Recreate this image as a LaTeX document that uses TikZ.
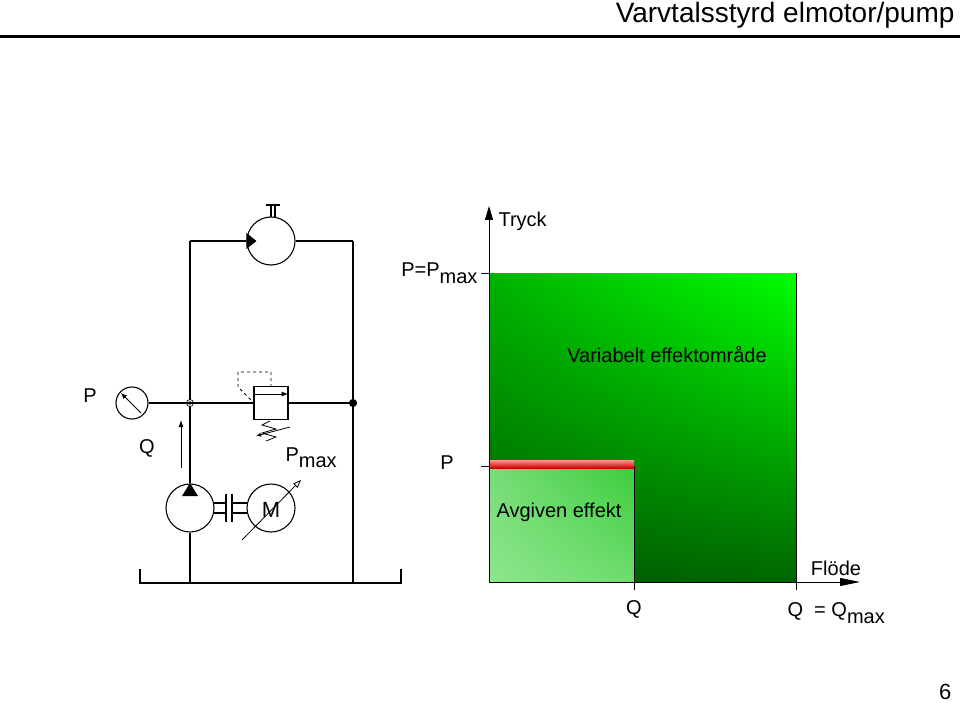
\documentclass[tikz,border=0pt]{standalone}
\usepackage{fontspec}
\setmainfont{Liberation Sans}
\usetikzlibrary{arrows.meta,shadings}
\begin{document}
\begin{tikzpicture}[x=1pt,y=-1pt,line width=1.1pt,
  lbl/.style={font=\fontsize{20}{20}\selectfont,inner sep=0pt},
  ln/.style={line width=1.1pt}]
\useasboundingbox (0,0) rectangle (960,703);
% header
\node[anchor=east,inner sep=0pt,font=\fontsize{28}{28}\selectfont] (title) at (955,15) {Varvtalsstyrd elmotor/pump};
\draw[line width=3pt] (0,37) -- (960,37);
\node[anchor=east,inner sep=0pt,font=\fontsize{22}{22}\selectfont\rmfamily] (pg) at (952,692) {6};
% ---- circuit
\coordinate (tl) at (190,241); \coordinate (tr) at (353,241);
\node[circle,draw,minimum size=48pt,inner sep=0pt] (hm) at (271,241) {};
\draw (tl) -- (hm.west); \draw (hm.east) -- (tr);
\fill (hm.west) ++(0,-8) -- ++(0,16) -- ++(10,-8) -- cycle;
\draw (271,217) -- (271,206) (275,217) -- (275,206) (266,205) -- (280,205);
\node[circle,draw,minimum size=48pt,inner sep=0pt] (pu) at (190,508) {};
\fill (190,484) ++(-8,12) -- ++(16,0) -- ++(-8,-13) -- cycle;
\node[circle,draw,minimum size=48pt,inner sep=0pt] (mo) at (271,508) {};
\node[lbl,font=\fontsize{22}{22}\selectfont] at (271,510) {M};
\draw (214,503) -- (226,503) (214,513) -- (226,513) (226,494) -- (226,522)
      (232,494) -- (232,522) (232,503) -- (247,503) (232,513) -- (247,513);
\draw[-{Triangle[open,length=8pt,width=6pt]},line width=0.8pt] (242,540) -- (301,480);
% lines
\coordinate (j1) at (190,403); \coordinate (j2) at (353,403);
\coordinate (bl) at (190,583); \coordinate (br) at (353,583);
\draw (tl) -- (j1) -- (pu.north); \draw (pu.south) -- (bl);
\draw (tr) -- (br);
\draw[fill=black] (j2) circle (3.5pt);
\draw[line width=0.7pt,fill=white] (j1) circle (3.5pt);
\draw[line width=0.7pt] (j1) circle (1.3pt);
\node[circle,draw,minimum size=32pt,inner sep=0pt] (ga) at (132,403) {};
\draw (ga.east) -- (j1);
\draw[-{Latex[length=6pt,width=5pt]},line width=0.8pt] (141,413) -- (121,393);
\node[lbl] at (90,396) {P};
% relief valve
\node[draw,minimum width=34pt,minimum height=33pt,inner sep=0pt,fill=white] (rv) at (271,403) {};
\draw (j1) -- (rv.west); \draw (rv.east) -- (j2);
\draw[-{Latex[length=7pt,width=5pt]},line width=1pt] (rv.west |- 0,394) -- (rv.east |- 0,394);
\draw[dashed,line width=0.8pt] (271,387) -- (271,372) -- (238,372) -- (238,387) -- (253,402);
\draw[line width=0.8pt] (270,421) -- (262,425) -- (276,429) -- (262,433) -- (276,437) -- (266,441);
\draw[-{Latex[length=5pt,width=4pt]},line width=0.8pt] (290,427) -- (256,436);
\draw[-{Latex[length=7pt,width=5pt]},line width=0.8pt] (181,468) -- (181,420);
\node[lbl] at (147,448) {Q};
\node[lbl,anchor=base west] at (285,461) {P\raisebox{-6pt}{max}};
% tank
\draw (140,569) -- (140,583) -- (401,583) -- (401,569);
% ---- chart
\shade[upper left=green!70!black, upper right=green, lower left=green!35!black, lower right=green!40!black]
  (489,273) rectangle (796,582);
\draw[line width=0.8pt] (796,273) -- (796,590);
\shade[upper left={rgb,255:red,120;green,220;blue,120}, upper right={rgb,255:red,60;green,205;blue,60}, lower left={rgb,255:red,140;green,230;blue,140}, lower right={rgb,255:red,110;green,220;blue,110}]
  (489,466) rectangle (634,582);
\draw[line width=0.8pt] (634,466) -- (634,590);
\shade[top color={rgb,255:red,255;green,150;blue,150},bottom color=red!80!black] (489,460) rectangle (634,468);
\draw[line width=0.8pt] (481,466) -- (489,466);
\draw[line width=0.8pt] (481,273) -- (489,273);
\draw[-{Triangle[length=14pt,width=8pt]},line width=1pt] (489,582) -- (489,206);
\draw[-{Triangle[length=20pt,width=8pt]},line width=1pt] (489,582) -- (860,582);
\node[lbl,anchor=west] at (498,221) {Tryck};
\node[lbl,anchor=base east] at (478,276) {P=P\raisebox{-7pt}{max}};
\node[lbl] at (667,355) {Variabelt effektområde};
\node[lbl] at (447,463) {P};
\node[lbl] at (559,512) {Avgiven effekt};
\node[lbl] at (836,568) {Flöde};
\node[lbl] at (634,609) {Q};
\node[lbl,anchor=base west] at (787,616) {Q\ \ = Q\raisebox{-7pt}{max}};
\end{tikzpicture}
\end{document}
